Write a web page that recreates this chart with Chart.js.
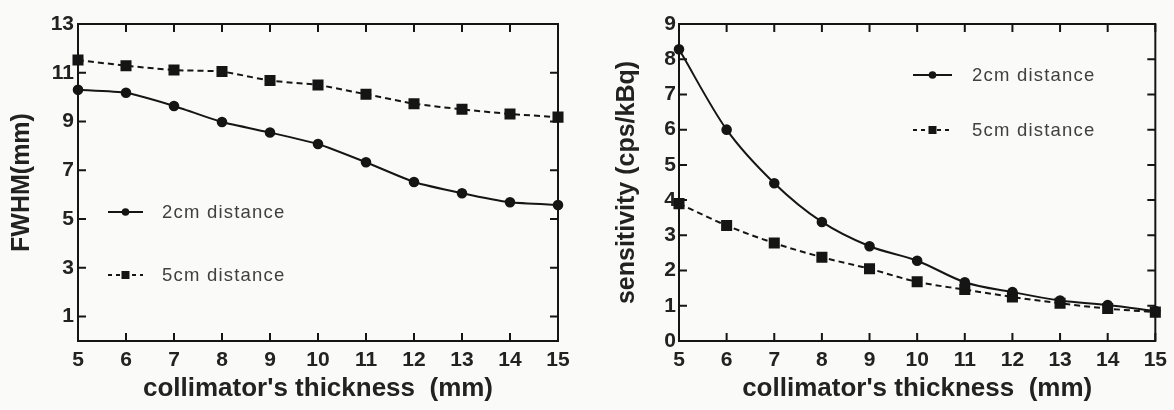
<!DOCTYPE html>
<html>
<head>
<meta charset="utf-8">
<script src="https://cdn.jsdelivr.net/npm/chart.js@4.4.0/dist/chart.umd.min.js"></script>
<style>
  html, body { margin: 0; padding: 0; background: #fafaf8; }
  #wrap { position: relative; width: 1174px; height: 410px; }
  .box { position: absolute; top: 0; width: 587px; height: 410px; }
</style>
</head>
<body>
<div id="wrap">
  <div class="box" style="left:0"><canvas id="fwhmChart"></canvas></div>
  <div class="box" style="left:587px"><canvas id="sensChart"></canvas></div>
</div>
<script>
// collimator thickness (mm)
const thickness = [5, 6, 7, 8, 9, 10, 11, 12, 13, 14, 15];
const seriesNames = ['2cm distance', '5cm distance'];

// FWHM (mm)
const fwhm2cm = [10.3, 10.18, 9.64, 8.98, 8.55, 8.08, 7.33, 6.52, 6.06, 5.69, 5.58];
const fwhm5cm = [11.52, 11.29, 11.11, 11.05, 10.68, 10.5, 10.12, 9.73, 9.5, 9.31, 9.18];
const fwhmTicks = [1, 3, 5, 7, 9, 11, 13];

// sensitivity (cps/kBq)
const sens2cm = [8.28, 6.0, 4.48, 3.38, 2.69, 2.28, 1.67, 1.39, 1.15, 1.02, 0.85];
const sens5cm = [3.9, 3.28, 2.78, 2.38, 2.05, 1.68, 1.46, 1.25, 1.07, 0.92, 0.82];
const sensTicks = [0, 1, 2, 3, 4, 5, 6, 7, 8, 9];

const ink = '#151515';
Chart.defaults.font.family = "'Liberation Sans', Arial, sans-serif";
Chart.defaults.color = '#222';

// box round the plot with inward tick marks, plus the legend inside the plot
const framePlugin = {
    id: 'frameLegend',
    beforeDatasetsDraw(chart) {
        const ctx = chart.ctx;
        const a = chart.chartArea;
        const xs = chart.scales.x, ys = chart.scales.y;
        const len = 8;
        ctx.save();
        ctx.strokeStyle = ink;
        ctx.lineWidth = 2;
        ctx.strokeRect(a.left, a.top, a.right - a.left, a.bottom - a.top);
        ctx.beginPath();
        xs.ticks.forEach(t => {
            const px = xs.getPixelForValue(t.value);
            ctx.moveTo(px, a.bottom); ctx.lineTo(px, a.bottom - len);
            ctx.moveTo(px, a.top); ctx.lineTo(px, a.top + len);
        });
        ys.ticks.forEach(t => {
            const py = ys.getPixelForValue(t.value);
            ctx.moveTo(a.left, py); ctx.lineTo(a.left + len, py);
            ctx.moveTo(a.right, py); ctx.lineTo(a.right - len, py);
        });
        ctx.stroke();
        ctx.restore();
    },
    afterDraw(chart, args, opts) {
        const ctx = chart.ctx;
        const {left, top} = chart.chartArea;
        ctx.save();
        chart.data.datasets.forEach((ds, i) => {
            const y = top + opts.rows[i];
            ctx.strokeStyle = ink;
            ctx.lineWidth = 2;
            ctx.setLineDash(ds.borderDash ? [4, 4] : []);
            ctx.beginPath();
            ctx.moveTo(left + opts.x0, y);
            ctx.lineTo(left + opts.x1, y);
            ctx.stroke();
            ctx.setLineDash([]);
            const cx = left + (opts.x0 + opts.x1) / 2;
            ctx.fillStyle = ink;
            if (ds.pointStyle === 'rect') {
                ctx.fillRect(cx - 4, y - 4, 8, 8);
            } else {
                ctx.beginPath();
                ctx.arc(cx, y, 3.8, 0, Math.PI * 2);
                ctx.fill();
            }
            ctx.letterSpacing = '1.2px';
            ctx.font = "18.5px 'Liberation Sans', Arial, sans-serif";
            ctx.fillStyle = '#404040';
            ctx.textAlign = 'left';
            ctx.textBaseline = 'middle';
            ctx.fillText(ds.label, left + opts.textX, y + 1);
            ctx.letterSpacing = '0px';
        });
        ctx.restore();
    }
};

function series(vals, i, tension) {
    return {
        label: seriesNames[i],
        data: thickness.map((x, k) => ({x: x, y: vals[k]})),
        borderColor: ink,
        backgroundColor: ink,
        pointBackgroundColor: ink,
        pointBorderColor: ink,
        borderWidth: 2,
        borderDash: i === 1 ? [6, 4] : undefined,
        pointStyle: i === 1 ? 'rect' : 'circle',
        pointRadius: i === 1 ? 6.4 : 4.3,
        tension: tension,
        cubicInterpolationMode: tension > 0.3 ? 'monotone' : 'default',
        clip: false
    };
}

function makeChart(id, cfg) {
    return new Chart(document.getElementById(id).getContext('2d'), {
        type: 'line',
        data: {datasets: cfg.datasets},
        options: {
            responsive: true,
            maintainAspectRatio: false,
            animation: false,
            layout: {padding: {top: 24, right: cfg.padRight, left: 0, bottom: 0}},
            plugins: {
                legend: {display: false},
                tooltip: {enabled: false},
                frameLegend: cfg.legend
            },
            scales: {
                x: {
                    type: 'linear',
                    min: 5, max: 15,
                    afterBuildTicks: s => { s.ticks = thickness.map(v => ({value: v})); },
                    afterFit: s => { s.height = 69; },
                    grid: {display: false, drawTicks: false},
                    border: {display: false},
                    ticks: {
                        autoSkip: false, maxRotation: 0, padding: 7, color: '#222',
                        font: {size: 21, weight: 'bold'}
                    },
                    title: {
                        display: true,
                        text: "collimator's thickness  (mm)",
                        color: '#222',
                        font: {size: 26, weight: 'bold'},
                        padding: {top: 0, bottom: 6}
                    }
                },
                y: {
                    type: 'linear',
                    min: cfg.yMin, max: cfg.yMax,
                    afterBuildTicks: s => { s.ticks = cfg.yTicks.map(v => ({value: v})); },
                    afterFit: s => { s.width = cfg.yWidth; },
                    grid: {display: false, drawTicks: false},
                    border: {display: false},
                    ticks: {
                        padding: cfg.yPad, color: '#222',
                        font: {size: 21, weight: 'bold'}
                    },
                    title: {
                        display: true,
                        text: cfg.yTitle,
                        color: '#222',
                        font: {size: 25, weight: 'bold'},
                        padding: {top: cfg.yTitlePad, bottom: 0}
                    }
                }
            }
        },
        plugins: [framePlugin]
    });
}

window.onload = function() {
    makeChart('fwhmChart', {
        datasets: [series(fwhm2cm, 0, 0.15), series(fwhm5cm, 1, 0.15)],
        yMin: 0, yMax: 13, yTicks: fwhmTicks,
        yWidth: 78, yPad: 4, yTitle: 'FWHM(mm)', yTitlePad: 7,
        padRight: 29,
        legend: {x0: 30, x1: 65, textX: 84, rows: [188, 251]}
    });
    makeChart('sensChart', {
        datasets: [series(sens2cm, 0, 0.4), series(sens5cm, 1, 0.4)],
        yMin: 0, yMax: 9, yTicks: sensTicks,
        yWidth: 92, yPad: 3, yTitle: 'sensitivity (cps/kBq)', yTitlePad: 25,
        padRight: 17,
        legend: {x0: 234, x1: 273, textX: 293, rows: [51, 106]}
    });
};
</script>
</body>
</html>
